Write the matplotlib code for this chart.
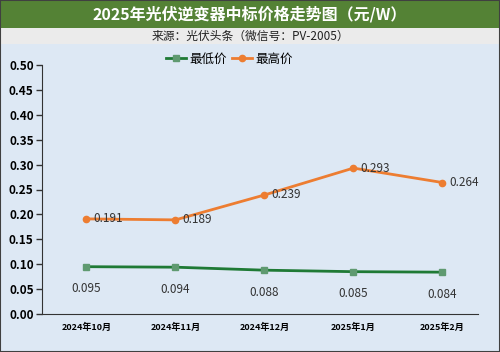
import numpy as np
import matplotlib.pyplot as plt
from matplotlib.patches import Rectangle

plt.rcParams['font.family'] = ['Noto Sans CJK SC', 'DejaVu Sans']

months = ['2024年10月', '2024年11月', '2024年12月', '2025年1月', '2025年2月']
low_price = [0.095, 0.094, 0.088, 0.085, 0.084]
high_price = [0.191, 0.189, 0.239, 0.293, 0.264]

bg = '#dde8f4'
fig = plt.figure(figsize=(5, 3.52), dpi=100, facecolor=bg)

# title band + source band
fig.patches.append(Rectangle((0, 1 - 28 / 352), 1, 28 / 352, transform=fig.transFigure,
                             facecolor='#548235', edgecolor='none', zorder=0))
fig.patches.append(Rectangle((0, 1 - 44 / 352), 1, 16 / 352, transform=fig.transFigure,
                             facecolor='#ebebeb', edgecolor='none', zorder=0))
fig.patches.append(Rectangle((0, 0), 1, 1, transform=fig.transFigure, fill=False,
                             edgecolor='#404040', linewidth=1.5, zorder=5))
fig.text(0.5, 1 - 14 / 352, '2025年光伏逆变器中标价格走势图（元/W）', ha='center', va='center',
         color='white', fontsize=11.5, fontweight='bold')
fig.text(0.5, 1 - 36 / 352, '来源：光伏头条（微信号：PV-2005）', ha='center', va='center',
         color='#222222', fontsize=8.5)

ax = fig.add_axes([42 / 500, 1 - 314 / 352, 436 / 500, 249 / 352])
ax.set_facecolor(bg)
x = np.arange(len(months))
ax.plot(x, low_price, color='#1f7a35', linewidth=2, marker='s', markersize=4.5,
        markerfacecolor='#5f9a70', markeredgecolor='#5f9a70', label='最低价')
ax.plot(x, high_price, color='#ed7d31', linewidth=2, marker='o', markersize=4.5,
        label='最高价')

for i, v in enumerate(low_price):
    ax.annotate(f'{v:.3f}', (x[i], v), xytext=(0, -16), textcoords='offset points',
                ha='center', va='center', fontsize=8.5, color='#333333')
for i, v in enumerate(high_price):
    ax.annotate(f'{v:.3f}', (x[i], v), xytext=(5, 0), textcoords='offset points',
                ha='left', va='center', fontsize=8.5, color='#333333')

ax.set_xlim(-0.5, 4.4)
ax.set_ylim(0, 0.5)
ax.set_yticks(np.arange(0, 0.51, 0.05))
ax.set_yticklabels([f'{t:.2f}' for t in np.arange(0, 0.51, 0.05)], fontweight='bold',
                   fontsize=8.5)
ax.set_xticks(x)
ax.set_xticklabels(months, fontweight='bold', fontsize=6.5)
ax.tick_params(axis='x', length=0, pad=6)
ax.tick_params(axis='y', length=4, width=1, color='#333333', pad=2)
for s in ['top', 'right']:
    ax.spines[s].set_visible(False)
for s in ['left', 'bottom']:
    ax.spines[s].set_color('#333333')
ax.legend(loc='upper center', bbox_to_anchor=(0.43, 1.075), ncol=2, frameon=False,
          fontsize=9, handlelength=1.6, columnspacing=0.4, handletextpad=0.3,
          borderpad=0)

fig.savefig('out.png', dpi=100, facecolor=bg)
